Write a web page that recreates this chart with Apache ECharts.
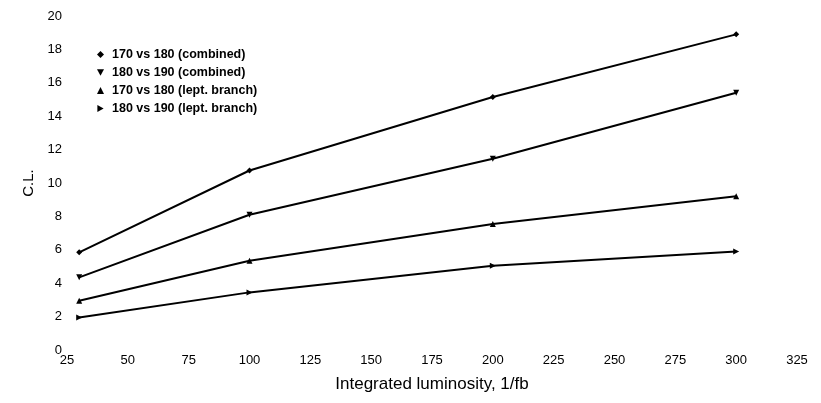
<!DOCTYPE html>
<html>
<head>
<meta charset="utf-8">
<script src="https://cdn.jsdelivr.net/npm/echarts@6/dist/echarts.min.js"></script>
<style>
  html, body { margin: 0; padding: 0; background: #fff; }
  #chart { width: 821px; height: 403px; }
</style>
</head>
<body>
<div id="chart"></div>
<script>
// Integrated luminosity points (1/fb)
const luminosity = [30, 100, 200, 300];

// Confidence level for each comparison
const cl170vs180Combined = [5.85, 10.75, 15.15, 18.9];
const cl180vs190Combined = [4.35, 8.1, 11.45, 15.4];
const cl170vs180Lept = [2.95, 5.35, 7.55, 9.2];
const cl180vs190Lept = [1.95, 3.45, 5.05, 5.9];

const seriesNames = [
  '170 vs 180 (combined)',
  '180 vs 190 (combined)',
  '170 vs 180 (lept. branch)',
  '180 vs 190 (lept. branch)'
];

const downTriangle = 'path://M0,0 L10,0 L5,9 Z';
const rightTriangle = 'path://M0,0 L9,5 L0,10 Z';
const symbols = ['diamond', downTriangle, 'triangle', rightTriangle];
const values = [cl170vs180Combined, cl180vs190Combined, cl170vs180Lept, cl180vs190Lept];

const FONT = '"Liberation Sans", Arial, sans-serif';

const chart = echarts.init(document.getElementById('chart'));

chart.setOption({
  backgroundColor: '#ffffff',
  animation: false,
  grid: { left: 67, right: 24, top: 16, bottom: 53 },
  legend: {
    orient: 'vertical',
    left: 92,
    top: 43,
    itemWidth: 7,
    itemHeight: 7,
    itemGap: 5,
    textStyle: { fontFamily: FONT, fontSize: 12.5, fontWeight: 'bold', color: '#000', padding: [0, 0, 0, 3] },
    data: seriesNames.map((n, i) => ({ name: n, icon: symbols[i] }))
  },
  xAxis: {
    type: 'value',
    min: 25,
    max: 325,
    interval: 25,
    name: 'Integrated luminosity, 1/fb',
    nameLocation: 'middle',
    nameGap: 26,
    nameTextStyle: { fontFamily: FONT, fontSize: 17, color: '#000' },
    axisLine: { show: false },
    axisTick: { show: false },
    splitLine: { show: false },
    axisLabel: { fontFamily: FONT, fontSize: 13, color: '#000', margin: 4 }
  },
  yAxis: {
    type: 'value',
    min: 0,
    max: 20,
    interval: 2,
    name: 'C.L.',
    nameLocation: 'middle',
    nameGap: 27,
    nameTextStyle: { fontFamily: FONT, fontSize: 15, color: '#000' },
    axisLine: { show: false },
    axisTick: { show: false },
    splitLine: { show: false },
    axisLabel: { fontFamily: FONT, fontSize: 13, color: '#000', margin: 5 }
  },
  series: seriesNames.map((n, i) => ({
    name: n,
    type: 'line',
    data: luminosity.map((x, j) => [x, values[i][j]]),
    symbol: symbols[i],
    symbolSize: 6,
    showAllSymbol: true,
    lineStyle: { color: '#000', width: 2 },
    itemStyle: { color: '#000' }
  }))
});
</script>
</body>
</html>
